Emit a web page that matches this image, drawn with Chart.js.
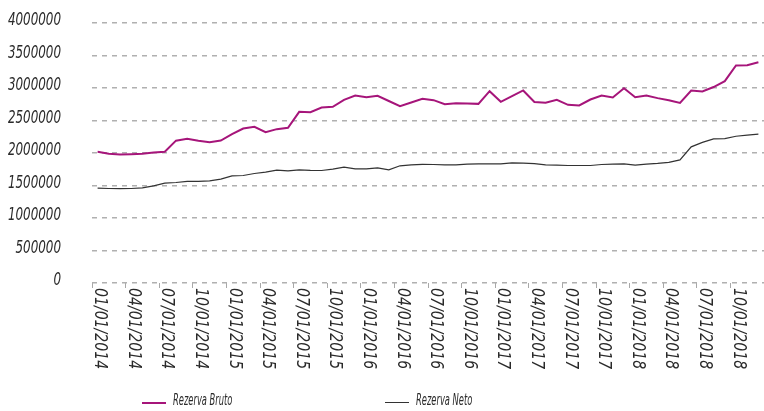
<!DOCTYPE html>
<html lang="es">
<head>
    <meta charset="UTF-8">
    <title>Rezerva Bruto / Neto</title>
    <script src="https://cdn.jsdelivr.net/npm/chart.js"></script>
    <style>
        body { margin: 0; background: #fff; }
        #wrap { position: relative; width: 764px; height: 411px; overflow: hidden; }
        .legend-item {
            position: absolute; top: 391px; height: 18px;
            font: italic 16px "DejaVu Sans Condensed", sans-serif;
            color: #2a2a2a; line-height: 18px; white-space: nowrap;
        }
        .legend-item span.swatch {
            display: inline-block; width: 24px; vertical-align: middle;
            margin-right: 7px; position: relative; top: 2px;
        }
        .legend-item span.txt {
            display: inline-block; transform: scaleX(0.58); transform-origin: left center;
        }
    </style>
</head>
<body>
<div id="wrap">
    <canvas id="chart" width="764" height="411"></canvas>
    <div class="legend-item" style="left:142px"><span class="swatch" style="border-top:2px solid #a6157a"></span><span class="txt">Rezerva Bruto</span></div>
    <div class="legend-item" style="left:385px"><span class="swatch" style="border-top:1px solid #333"></span><span class="txt">Rezerva Neto</span></div>
</div>
<script>
    // monthly dates, Jan 2014 .. Dec 2018
    const months = [
        "01/01/2014","02/01/2014","03/01/2014","04/01/2014","05/01/2014","06/01/2014",
        "07/01/2014","08/01/2014","09/01/2014","10/01/2014","11/01/2014","12/01/2014",
        "01/01/2015","02/01/2015","03/01/2015","04/01/2015","05/01/2015","06/01/2015",
        "07/01/2015","08/01/2015","09/01/2015","10/01/2015","11/01/2015","12/01/2015",
        "01/01/2016","02/01/2016","03/01/2016","04/01/2016","05/01/2016","06/01/2016",
        "07/01/2016","08/01/2016","09/01/2016","10/01/2016","11/01/2016","12/01/2016",
        "01/01/2017","02/01/2017","03/01/2017","04/01/2017","05/01/2017","06/01/2017",
        "07/01/2017","08/01/2017","09/01/2017","10/01/2017","11/01/2017","12/01/2017",
        "01/01/2018","02/01/2018","03/01/2018","04/01/2018","05/01/2018","06/01/2018",
        "07/01/2018","08/01/2018","09/01/2018","10/01/2018","11/01/2018","12/01/2018"
    ];

    const rezervaBruto = [
        2018000,1987000,1977000,1982000,1990000,2007000,2018000,2190000,2218000,2187000,2167000,2192000,
        2290000,2377000,2403000,2320000,2367000,2387000,2633000,2628000,2700000,2710000,2818000,2885000,
        2859000,2880000,2800000,2720000,2777000,2833000,2813000,2751000,2767000,2762000,2756000,2951000,
        2787000,2874000,2962000,2785000,2772000,2818000,2741000,2731000,2823000,2885000,2854000,2997000,
        2859000,2885000,2844000,2810000,2770000,2960000,2948000,3015000,3105000,3346000,3350000,3395000
    ];

    const rezervaNeto = [
        1459000,1454000,1453000,1454000,1464000,1495000,1536000,1546000,1562000,1562000,1572000,1597000,
        1649000,1654000,1685000,1705000,1736000,1726000,1741000,1733000,1731000,1751000,1782000,1756000,
        1756000,1772000,1741000,1803000,1818000,1826000,1823000,1818000,1818000,1828000,1833000,1833000,
        1833000,1849000,1844000,1838000,1818000,1813000,1808000,1808000,1808000,1823000,1828000,1833000,
        1813000,1830000,1840000,1855000,1893000,2095000,2163000,2217000,2222000,2258000,2276000,2289000
    ];

    const FONT = '"DejaVu Sans Condensed", sans-serif';

    // axis labels drawn by hand: x labels read top-to-bottom (chart.js can't rotate that way)
    // and the original font is narrower than anything installed, so squeeze the text a bit
    const axisLabels = {
        id: 'axisLabels',
        afterDraw(chart) {
            const ctx = chart.ctx;
            const xs = chart.scales.x;
            const ys = chart.scales.y;
            ctx.save();
            ctx.fillStyle = '#2a2a2a';

            ctx.font = 'italic 17px ' + FONT;
            ctx.textAlign = 'left';
            ctx.textBaseline = 'middle';
            for (let i = 0; i < months.length; i += 3) {
                ctx.save();
                ctx.translate(xs.getPixelForValue(i) + 2, chart.chartArea.bottom + 5);
                ctx.rotate(Math.PI / 2);
                ctx.scale(0.92, 1);
                ctx.fillText(months[i], 0, 0);
                ctx.restore();
            }

            ctx.textAlign = 'right';
            ys.ticks.forEach((t) => {
                ctx.save();
                ctx.translate(61, ys.getPixelForValue(t.value) - 2);
                ctx.scale(0.78, 1);
                ctx.fillText(String(t.value), 0, 0);
                ctx.restore();
            });
            ctx.restore();
        }
    };

    new Chart(document.getElementById('chart'), {
        type: 'line',
        data: {
            labels: months,
            datasets: [{
                label: 'Rezerva Bruto',
                data: rezervaBruto,
                borderColor: '#a6157a',
                borderWidth: 2,
                pointRadius: 0,
                tension: 0
            }, {
                label: 'Rezerva Neto',
                data: rezervaNeto,
                borderColor: '#333333',
                borderWidth: 1.2,
                pointRadius: 0,
                tension: 0
            }]
        },
        options: {
            responsive: false,
            animation: false,
            devicePixelRatio: 1,
            // the source plot runs a little past the right edge of the picture
            layout: { padding: { top: 23, right: -8, bottom: 0, left: 0 } },
            plugins: {
                legend: { display: false },
                tooltip: { enabled: false }
            },
            scales: {
                x: {
                    offset: true,
                    afterFit: (s) => { s.height = 128; s.paddingLeft = 0; s.paddingRight = 0; },
                    border: { display: false },
                    grid: {
                        offset: true,
                        drawOnChartArea: false,
                        drawTicks: true,
                        tickLength: 5,
                        color: (c) => (c.index % 3 === 0 ? '#a8a8a8' : 'rgba(0,0,0,0)')
                    },
                    ticks: { display: false }
                },
                y: {
                    min: 0,
                    max: 4000000,
                    afterFit: (s) => { s.width = 92; s.paddingTop = 0; s.paddingBottom = 0; },
                    border: { display: false, dash: [5, 5] },
                    grid: {
                        color: '#b0b0b0',
                        lineWidth: 1.5,
                        drawTicks: false
                    },
                    ticks: { display: false, stepSize: 500000 }
                }
            }
        },
        plugins: [axisLabels]
    });
</script>
</body>
</html>
